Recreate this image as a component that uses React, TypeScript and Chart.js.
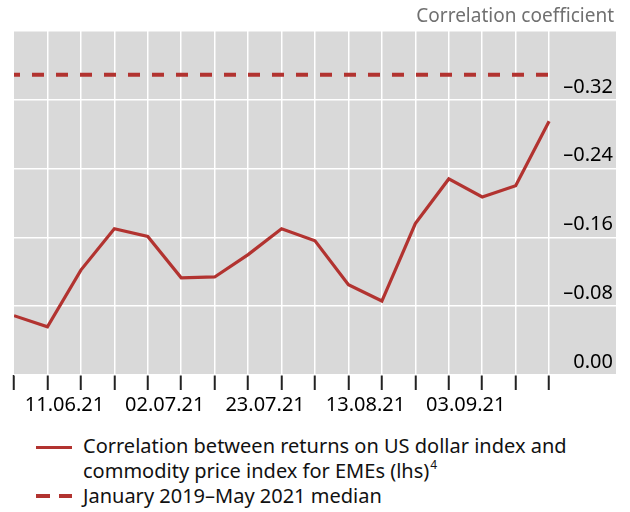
import React, { useEffect, useRef } from "react";
import { Chart, registerables } from "chart.js";

Chart.register(...registerables);

// Weekly observation dates (Fridays)
const DATES = [
  "04.06.21", "11.06.21", "18.06.21", "25.06.21", "02.07.21", "09.07.21",
  "16.07.21", "23.07.21", "30.07.21", "06.08.21", "13.08.21", "20.08.21",
  "27.08.21", "03.09.21", "10.09.21", "17.09.21", "24.09.21",
];
// Dates that carry an axis label
const LABELLED_DATES = ["11.06.21", "02.07.21", "23.07.21", "13.08.21", "03.09.21"];

// Correlation between returns on US dollar index and commodity price index for EMEs
const CORRELATION = [
  -0.069, -0.056, -0.122, -0.170, -0.161, -0.113, -0.114, -0.140, -0.170,
  -0.156, -0.105, -0.086, -0.176, -0.228, -0.207, -0.220, -0.295,
];
// January 2019–May 2021 median
const MEDIAN = -0.349;

const Y_TICKS = [0, -0.08, -0.16, -0.24, -0.32, -0.4];

const RED = "#b23330";
const FONT = "'Noto Sans', 'Open Sans', sans-serif";

const bgPlugin = {
  id: "plotBg",
  beforeDraw(chart: any) {
    const { ctx, chartArea } = chart;
    ctx.save();
    ctx.fillStyle = "#d9d9d9";
    ctx.fillRect(chartArea.left, chartArea.top, chartArea.right - chartArea.left, chartArea.bottom - chartArea.top);
    ctx.restore();
  },
};

export default function App() {
  const ref = useRef<HTMLCanvasElement | null>(null);

  useEffect(() => {
    if (!ref.current) return;
    const chart = new Chart(ref.current, {
      type: "line",
      data: {
        datasets: [
          {
            label: "Correlation",
            data: CORRELATION.map((v, i) => ({ x: i, y: v })),
            borderColor: RED,
            borderWidth: 3.2,
            pointRadius: 0,
            tension: 0,
            borderJoinStyle: "miter",
          },
          {
            label: "Median",
            data: DATES.map((_, i) => ({ x: i, y: MEDIAN })),
            borderColor: RED,
            borderWidth: 4,
            borderDash: [12, 12],
            borderDashOffset: 6,
            pointRadius: 0,
            tension: 0,
          },
        ],
      },
      options: {
        animation: false,
        responsive: false,
        maintainAspectRatio: false,
        layout: { padding: { left: 14, right: 14, top: 31, bottom: 0 } },
        plugins: { legend: { display: false }, tooltip: { enabled: false }, title: { display: false } },
        scales: {
          x: {
            type: "linear",
            min: 0,
            max: 18,
            afterBuildTicks: (axis: any) => {
              axis.ticks = DATES.map((_, i) => ({ value: i }));
            },
            ticks: {
              autoSkip: false,
              maxRotation: 0,
              minRotation: 0,
              labelOffset: 17,
              padding: 3,
              color: "#000",
              font: { family: FONT, size: 20 },
              callback: (v: any) => {
                const d = DATES[v as number];
                return LABELLED_DATES.includes(d) ? d : "";
              },
            },
            grid: {
              color: (ctx: any) => (ctx.tick && ctx.tick.value === 0 ? "rgba(0,0,0,0)" : "#ffffff"),
              lineWidth: 1.5,
              tickColor: "#222",
              tickWidth: 2,
              tickLength: 15,
              drawTicks: true,
            },
            border: { display: false },
          },
          y: {
            type: "linear",
            position: "right",
            reverse: true,
            min: -0.4,
            max: 0,
            afterBuildTicks: (axis: any) => {
              axis.ticks = Y_TICKS.map((v) => ({ value: v }));
            },
            ticks: {
              mirror: true,
              padding: -3,
              labelOffset: -13,
              color: "#000",
              font: { family: FONT, size: 20 },
              callback: (v: any) => {
                const n = Number(v);
                if (Math.abs(n) < 1e-9) return "0.00";
                if (n < -0.39) return "";
                return "\u2013" + Math.abs(n).toFixed(2);
              },
            },
            grid: { color: "#ffffff", lineWidth: 1.5, drawTicks: false },
            border: { display: false },
          },
        },
      },
      plugins: [bgPlugin],
    } as any);
    return () => chart.destroy();
  }, []);

  const text: React.CSSProperties = {
    position: "absolute",
    fontFamily: FONT,
    fontSize: 20,
    lineHeight: "25px",
    color: "#111",
    whiteSpace: "nowrap",
  };

  return (
    <div style={{ position: "absolute", left: 0, top: 0, width: 630, height: 512, background: "#fff" }}>
      <canvas ref={ref} width={630} height={420} style={{ position: "absolute", left: 0, top: 0, width: 630, height: 420 }} />
      <div style={{ ...text, fontSize: 19, right: 16, top: 3, color: "#707070", textAlign: "right" }}>Correlation coefficient</div>
      {/* legend */}
      <div style={{ position: "absolute", left: 36, top: 446, width: 36, height: 3, background: RED }} />
      <div style={{ ...text, left: 83, top: 433 }}>
        Correlation between returns on US dollar index and
        <br />
        commodity price index for EMEs (lhs)
        <span style={{ fontSize: 12, position: "relative", top: -9, marginLeft: 1 }}>4</span>
      </div>
      <div style={{ position: "absolute", left: 36, top: 494, width: 14, height: 4, background: RED }} />
      <div style={{ position: "absolute", left: 59, top: 494, width: 13, height: 4, background: RED }} />
      <div style={{ ...text, left: 83, top: 483 }}>January 2019–May 2021 median</div>
    </div>
  );
}
